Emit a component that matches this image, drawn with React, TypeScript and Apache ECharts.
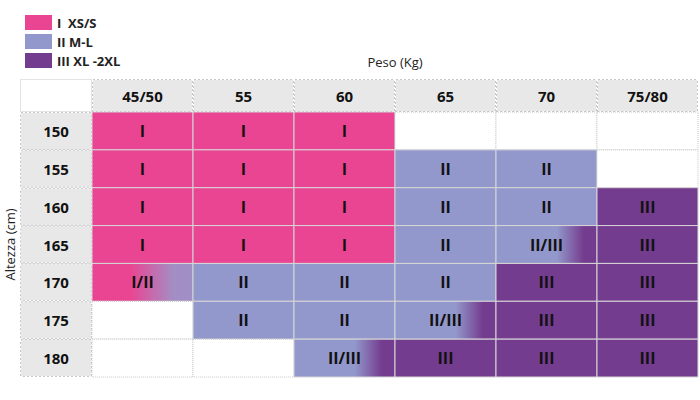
import React, { useEffect, useRef } from "react";
import * as echarts from "echarts";

const weights = ["45/50", "55", "60", "65", "70", "75/80"];
const heights = ["150", "155", "160", "165", "170", "175", "180"];
const sizeNames = ["I  XS/S", "II M-L", "III XL -2XL"];
const sizeColors = ["#EA4592", "#9298CB", "#743C8F"];

const row150 = ["I", "I", "I", "", "", ""];
const row155 = ["I", "I", "I", "II", "II", ""];
const row160 = ["I", "I", "I", "II", "II", "III"];
const row165 = ["I", "I", "I", "II", "II/III", "III"];
const row170 = ["I/II", "II", "II", "II", "III", "III"];
const row175 = ["", "II", "II", "II/III", "III", "III"];
const row180 = ["", "", "II/III", "III", "III", "III"];
const sizeTable = [row150, row155, row160, row165, row170, row175, row180];

const FONT = "'Open Sans', 'Noto Sans', sans-serif";

function fillFor(v: string): any {
  const [P, L, V] = sizeColors;
  if (v === "I") return P;
  if (v === "II") return L;
  if (v === "III") return V;
  if (v === "I/II")
    return new echarts.graphic.LinearGradient(0, 0, 1, 0, [
      { offset: 0, color: P },
      { offset: 0.38, color: P },
      { offset: 0.8, color: "#A48DC4" },
      { offset: 1, color: "#A08FC6" },
    ]);
  if (v === "II/III")
    return new echarts.graphic.LinearGradient(0, 0, 1, 0, [
      { offset: 0, color: L },
      { offset: 0.6, color: L },
      { offset: 0.87, color: V },
      { offset: 1, color: V },
    ]);
  return "#ffffff";
}

export default function App() {
  const ref = useRef<HTMLDivElement>(null);
  useEffect(() => {
    if (!ref.current) return;
    const chart = echarts.init(ref.current, null, { renderer: "svg" });
    const cells: { x: number; y: number; v: string }[] = [];
    sizeTable.forEach((row, yi) =>
      row.forEach((v, xi) => cells.push({ x: xi, y: yi, v }))
    );
    const labelRich = (w: number, h: number) => ({
      h: {
        width: w,
        height: h,
        lineHeight: h,
        align: "center",
        backgroundColor: "#E8E8E8",
        borderColor: "#c8c8c8",
        borderWidth: 1,
        borderType: "dotted",
        fontFamily: FONT,
        fontWeight: "bold",
        fontSize: 15,
        color: "#111",
      },
    });
    const option: any = {
      animation: false,
      legend: {
        orient: "vertical",
        left: 20,
        top: 10,
        itemWidth: 27,
        itemHeight: 15,
        itemGap: 4,
        icon: "rect",
        selectedMode: false,
        data: sizeNames,
        textStyle: { fontFamily: FONT, fontWeight: "bold", fontSize: 13, color: "#222" },
      },
      grid: { left: 92, top: 112, width: 606, height: 265, outerBoundsMode: "none", containLabel: false },
      graphic: [
        {
          type: "rect",
          shape: { x: 20.5, y: 79.5, width: 71, height: 32 },
          style: { fill: "#fff", stroke: "#c8c8c8", lineWidth: 1, lineDash: [1, 1] },
          silent: true,
        },
      ],
      xAxis: {
        type: "category",
        position: "top",
        data: weights,
        name: "Peso (Kg)",
        nameLocation: "middle",
        nameGap: 44,
        nameMoveOverlap: false,
        nameTextStyle: { fontFamily: FONT, fontSize: 13, color: "#222" },
        axisLine: { show: false },
        axisTick: { show: false },
        splitLine: { show: false },
        axisLabel: {
          interval: 0,
          margin: 1,
          formatter: (v: string) => `{h|${v}}`,
          rich: labelRich(99, 31),
        },
      },
      yAxis: {
        type: "category",
        inverse: true,
        data: heights,
        name: "Altezza (cm)",
        nameLocation: "middle",
        nameGap: 76,
        nameMoveOverlap: false,
        nameTextStyle: { fontFamily: FONT, fontSize: 13, color: "#222" },
        axisLine: { show: false },
        axisTick: { show: false },
        splitLine: { show: false },
        axisLabel: {
          interval: 0,
          margin: 1,
          formatter: (v: string) => `{h|${v}}`,
          rich: labelRich(70, 36),
        },
      },
      series: [
        {
          type: "custom",
          name: "cells",
          data: cells.map((c) => [c.x, c.y]),
          encode: { x: 0, y: 1 },
          renderItem: (params: any, api: any) => {
            const c = cells[params.dataIndex];
            const p = api.coord([api.value(0), api.value(1)]);
            const s = api.size([1, 1]);
            const empty = c.v === "";
            return {
              type: "rect",
              shape: { x: p[0] - s[0] / 2, y: p[1] - s[1] / 2, width: s[0], height: s[1] },
              style: {
                fill: fillFor(c.v),
                stroke: empty ? "#c8c8c8" : "#d6d6d6",
                lineWidth: 1,
                lineDash: empty ? [1, 1] : null,
              },
              textContent: {
                style: {
                  text: c.v,
                  font: "bold 16px " + FONT,
                  fill: "#111",
                },
              },
              textConfig: { position: "inside" },
            };
          },
        },
        ...sizeNames.map((n, i) => ({
          type: "bar",
          name: n,
          data: [],
          itemStyle: { color: sizeColors[i] },
        })),
      ],
    };
    chart.setOption(option);
    return () => chart.dispose();
  }, []);
  return (
    <div
      ref={ref}
      style={{ position: "absolute", left: 0, top: 0, width: 700, height: 400 }}
    />
  );
}
